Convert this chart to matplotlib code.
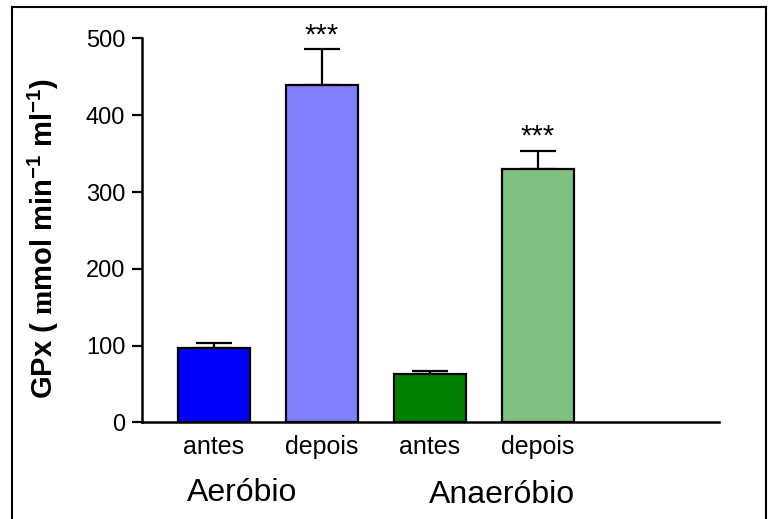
import matplotlib.pyplot as plt
from matplotlib.lines import Line2D

plt.rcParams['font.family'] = ['Liberation Sans', 'DejaVu Sans']
plt.rcParams['mathtext.fontset'] = 'custom'
plt.rcParams['mathtext.rm'] = 'Liberation Sans:bold'
plt.rcParams['mathtext.it'] = 'Liberation Sans:bold'
plt.rcParams['mathtext.bf'] = 'Liberation Serif:bold'

# dados
categorias = ["antes", "depois", "antes", "depois"]
valores = [97, 439, 63, 330]
erros = [7, 47, 4, 24]
cores = ["#0000FF", "#8080FF", "#008000", "#80C080"]
estrelas = ["", "***", "", "***"]
grupos = ["Aeróbio", "Anaeróbio"]
grupos_x = [0.26, 2.67]

fig = plt.figure(figsize=(7.78, 5.19), dpi=100)
ax = fig.add_axes([0.1825, 0.186, 0.7415, 0.740])

x = list(range(len(valores)))
ax.bar(x, valores, width=0.667, color=cores, edgecolor="black", linewidth=1.6, zorder=2)
ax.errorbar(x, valores, yerr=[[0] * len(erros), erros], fmt="none", ecolor="black",
            elinewidth=1.6, capsize=13.3, capthick=1.6, zorder=1)

for xi, v, e, s in zip(x, valores, erros, estrelas):
    if s:
        ax.annotate(s, (xi, v + e), xytext=(0, 0), textcoords="offset points",
                    ha="center", va="bottom", fontsize=21)

ax.set_xlim(-0.667, 4.676)
ax.set_ylim(0, 500)
ax.set_yticks([0, 100, 200, 300, 400, 500])
ax.set_xticks(x)
ax.set_xticklabels(categorias, fontsize=18)
ax.tick_params(axis="x", length=0, pad=9)
ax.tick_params(axis="y", length=7, width=1.6, labelsize=17, pad=5)

for side in ["top", "right"]:
    ax.spines[side].set_visible(False)
for side in ["left", "bottom"]:
    ax.spines[side].set_linewidth(1.8)

ax.set_ylabel(r"GPx ( $\mathbf{m}$mol min$^{-1}$ ml$^{-1}$)", fontsize=21, fontweight="bold")
ax.yaxis.set_label_coords(-0.14, 0.48)

for gx, nome, yy in zip(grupos_x, grupos, [-0.204, -0.210]):
    ax.text(gx, yy, nome, transform=ax.get_xaxis_transform(), ha="center",
            va="baseline", fontsize=23)

# moldura
l, r, t = 12 / 778, 766 / 778, 1 - 7 / 519
for xs, ys in [([l, l], [-0.1, t]), ([l, r], [t, t]), ([r, r], [t, -0.1])]:
    fig.add_artist(Line2D(xs, ys, color="black", linewidth=1.5, transform=fig.transFigure))

fig.savefig("out.png", dpi=100)
